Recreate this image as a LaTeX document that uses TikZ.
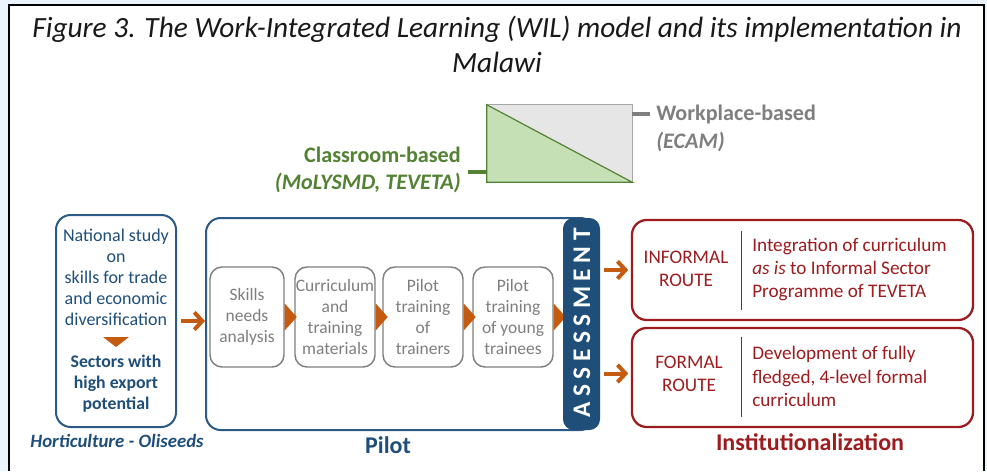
\documentclass[tikz,border=0pt]{standalone}
\usepackage{fontspec}
\setmainfont{Carlito}
\newfontfamily\spacedfont[LetterSpace=22]{Carlito}
\usetikzlibrary{arrows.meta,calc}
\definecolor{bg}{HTML}{EBF3FD}
\definecolor{wblue}{HTML}{1F4E79}
\definecolor{bblue}{HTML}{2B5A87}
\definecolor{worange}{HTML}{C55A11}
\definecolor{wred}{HTML}{9C1C1F}
\definecolor{wgreen}{HTML}{548235}
\definecolor{lgreen}{HTML}{C5E0B4}
\definecolor{lgrey}{HTML}{E6E6E6}
\definecolor{mgrey}{HTML}{A6A6A6}
\definecolor{tgrey}{HTML}{7F7F7F}
\begin{document}
\begin{tikzpicture}[x=0.75pt,y=-0.75pt,
  stepbox/.style={draw=tgrey, line width=1.1pt, rounded corners=9pt, minimum width=60pt, minimum height=75pt, inner sep=0pt, align=center, text=tgrey, font=\fontsize{13.1}{15.75}\selectfont},
  bluebox/.style={draw=bblue, line width=1.5pt, rounded corners=11pt, inner sep=0pt},
  bluetext/.style={text=wblue, align=center, inner sep=0pt, font=\fontsize{13.5}{15.75}\selectfont},
  redbox/.style={draw=wred, line width=1.7pt, rounded corners=11pt, inner sep=0pt, minimum width=255.75pt},
  redtext/.style={text=wred, inner sep=0pt, font=\fontsize{14.4}{17.6}\selectfont},
  orarrow/.style={draw=worange, line width=3pt, -{Straight Barb[length=6pt,width=13pt]}},
  tri/.style={fill=worange}
]
\useasboundingbox (0,0) rectangle (987,471);
\fill[bg] (0,0) rectangle (987,471);
\fill[white] (9,5) rectangle (984,471);
\draw[black, line width=1.1pt] (9,471) -- (9,5) -- (984,5) -- (984,471);

% title
\node[align=center, font=\fontsize{22}{26.25}\selectfont\itshape, text=black!90] (title) at (497,44.5)
  {Figure 3. The Work-Integrated Learning (WIL) model and its implementation in\\Malawi};

% WIL rectangle
\node[minimum width=108.75pt, minimum height=57.75pt, inner sep=0pt] (wil) at (559.5,143.5) {};
\fill[lgrey] (wil.north west) rectangle (wil.south east);
\fill[lgreen] (wil.north west) -- (wil.south west) -- (wil.south east) -- cycle;
\draw[mgrey, line width=0.9pt] (wil.north west) -- (wil.north east) -- (wil.south east);
\draw[wgreen, line width=0.9pt] (wil.south east) -- (wil.south west) -- (wil.north west) -- cycle;
\coordinate (gc) at (468,172);
\coordinate (wc) at (650,114);
\draw[wgreen, line width=2.3pt] (gc) -- (gc -| wil.west);
\draw[tgrey, line width=2.3pt] (wc -| wil.east) -- (wc);
\node[anchor=east, align=right, inner sep=0pt, text=wgreen, font=\fontsize{16.6}{20.25}\selectfont\bfseries] (cls) at (461,169.5)
  {Classroom-based\\\textit{(MoLYSMD, TEVETA)}};
\node[anchor=west, align=left, inner sep=0pt, text=tgrey, font=\fontsize{16.6}{21}\selectfont\bfseries] (wpl) at (656,128)
  {Workplace-based\\\textit{(ECAM)}};

% left box
\node[bluebox, minimum width=90pt, minimum height=159pt] (nat) at (116,321) {};
\node[bluetext] (nat1) at (116,277) {National study\\on\\skills for trade\\and economic\\diversification};
\fill[tri] ($(nat.center)+(-13,16)$) -- ($(nat.center)+(13,16)$) -- ($(nat.center)+(0,26)$) -- cycle;
\node[bluetext, font=\fontsize{13.3}{15.75}\selectfont\bfseries] (nat2) at (116,384) {Sectors with\\high export\\potential};
\node[text=wblue, inner sep=0pt, font=\fontsize{14.1}{16}\selectfont\bfseries\itshape] (hort) at (117,441) {Horticulture - Oliseeds};

% pilot
\node[bluebox, minimum width=291.75pt, minimum height=159pt] (pilot) at (400.5,324) {};
\node[stepbox, minimum width=55.5pt] (s1) at (247,317) {Skills\\needs\\analysis};
\node[stepbox] (s2) at (335,317) {Curriculum\\and\\training\\materials};
\node[stepbox] (s3) at (423,317) {Pilot\\training\\of\\trainers};
\node[stepbox] (s4) at (513,317) {Pilot\\training\\of young\\trainees};
\foreach \b in {s1,s2,s3,s4}{
  \fill[tri] ($(\b.east)+(0,-13.5)$) -- ($(\b.east)+(12,0)$) -- ($(\b.east)+(0,13.5)$) -- cycle;
}
\node[fill=wblue, rounded corners=8pt, minimum width=27.75pt, minimum height=159pt, inner sep=0pt] (asm) at (581.5,324) {};
\node[rotate=90, text=white, inner sep=0pt, font=\fontsize{19}{20}\spacedfont\bfseries] (asmt) at (582,323) {ASSESSMENT};
\node[text=wblue, inner sep=0pt, font=\fontsize{18}{20}\selectfont\bfseries] (pil) at (388,445) {Pilot};

\draw[orarrow, shorten <=3pt] (nat.east) -- (nat.east -| pilot.west);

% institutionalization
\node[redbox, minimum height=75pt] (inf) at (802.5,270) {};
\node[redbox, minimum height=74.25pt] (form) at (802.5,377.5) {};
\draw[wred, line width=0.8pt] ($(inf.north west)+(111,12)$) -- ($(inf.south west)+(111,-11)$);
\draw[wred, line width=0.8pt] ($(form.north west)+(111,10)$) -- ($(form.south west)+(111,-11)$);
\node[redtext, align=center] (infl) at (686,269) {INFORMAL\\ROUTE};
\node[redtext, align=left, anchor=west] (infr) at (752,269.5) {Integration of curriculum\\\textit{as is} to Informal Sector\\Programme of TEVETA};
\node[redtext, align=center] (forml) at (689,374) {FORMAL\\ROUTE};
\node[redtext, align=left, anchor=west] (formr) at (752,376.5) {Development of fully\\fledged, 4-level formal\\curriculum};
\node[text=wred, inner sep=0pt, font=\fontsize{18}{20}\selectfont\bfseries] (inst) at (810,442) {Institutionalization};

\draw[orarrow, shorten <=3pt, shorten >=2pt] (asm.east |- inf.west) -- (inf.west);
\draw[orarrow, shorten <=3pt, shorten >=2pt] ([yshift=3pt]asm.east |- form.west) -- ([yshift=3pt]form.west);
\end{tikzpicture}
\end{document}
